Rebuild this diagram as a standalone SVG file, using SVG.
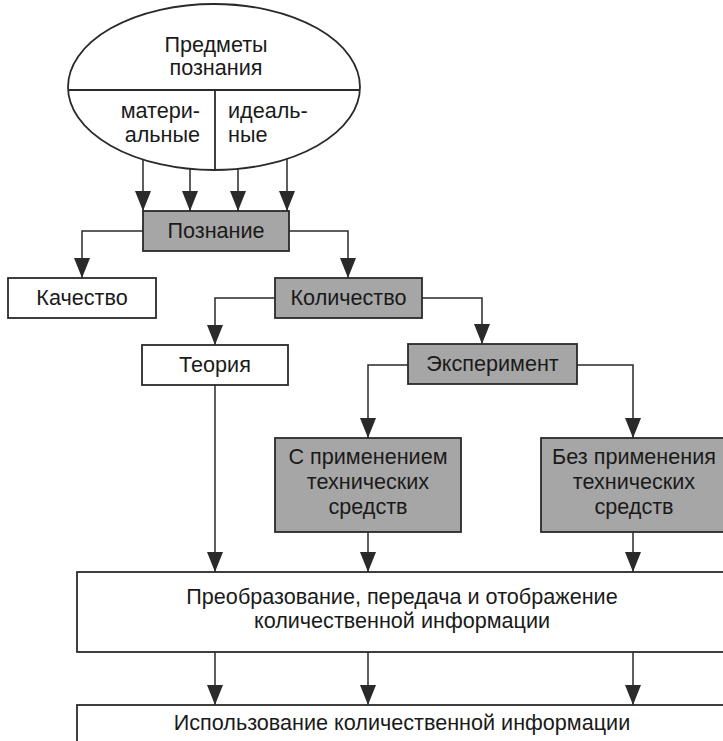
<svg xmlns="http://www.w3.org/2000/svg" width="723" height="741" viewBox="0 0 723 741">
<style>
.t{font-family:"Liberation Sans",Arial,sans-serif;font-size:21.6px;fill:#1a1a1a;text-anchor:middle}
.w{fill:#fff;stroke:#2a2a2a;stroke-width:1.8}
.g{fill:#a6a6a6;stroke:#2a2a2a;stroke-width:1.8}
.c{fill:none;stroke:#2a2a2a;stroke-width:1.5}
</style>
<defs>
<marker id="ah" markerUnits="userSpaceOnUse" markerWidth="20" markerHeight="16" refX="20" refY="8" orient="auto" viewBox="0 0 20 16">
<path d="M0,0 L20,8 L0,16 z" fill="#2a2a2a"/>
</marker>
</defs>
<rect width="723" height="741" fill="#fff"/>
<g id="predmety">
<ellipse cx="214" cy="87" rx="146" ry="83" class="w"/>
<line x1="68" y1="90" x2="360" y2="90" stroke="#2a2a2a" stroke-width="1.8"/>
<line x1="215" y1="90" x2="215" y2="170" stroke="#2a2a2a" stroke-width="1.8"/>
<text class="t" x="216" y="52">Предметы</text>
<text class="t" x="216" y="75">познания</text>
<text class="t" x="200" y="118" style="text-anchor:end">матери-</text>
<text class="t" x="200" y="142" style="text-anchor:end">альные</text>
<text class="t" x="228" y="118" style="text-anchor:start">идеаль-</text>
<text class="t" x="228" y="142" style="text-anchor:start">ные</text>
</g>
<g id="poznanie"><rect x="143" y="211" width="146" height="40" class="g"/><text class="t" x="216" y="238">Познание</text></g>
<g id="kachestvo"><rect x="8" y="278" width="148" height="40" class="w"/><text class="t" x="82" y="305">Качество</text></g>
<g id="kolichestvo"><rect x="275" y="278" width="147" height="40" class="g"/><text class="t" x="348.5" y="305">Количество</text></g>
<g id="teoriya"><rect x="142" y="345" width="146" height="40" class="w"/><text class="t" x="215" y="372">Теория</text></g>
<g id="eksperiment"><rect x="408" y="344" width="169" height="40" class="g"/><text class="t" x="492.5" y="371">Эксперимент</text></g>
<g id="s-primeneniem"><rect x="275" y="438" width="186" height="94" class="g"/>
<text class="t" x="368" y="464">С применением</text><text class="t" x="368" y="489">технических</text><text class="t" x="368" y="514">средств</text></g>
<g id="bez-primeneniya"><rect x="541" y="438" width="190" height="94" class="g"/>
<text class="t" x="634" y="464">Без применения</text><text class="t" x="634" y="489">технических</text><text class="t" x="634" y="514">средств</text></g>
<g id="preobrazovanie"><rect x="77" y="572" width="652" height="80" class="w"/>
<text class="t" x="402" y="604">Преобразование, передача и отображение</text><text class="t" x="402" y="628">количественной информации</text></g>
<g id="ispolzovanie"><rect x="77" y="705" width="652" height="50" class="w"/>
<text class="t" x="402" y="730">Использование количественной информации</text></g>
<g id="connectors" class="c" marker-end="url(#ah)">
<path d="M143,159.5 V211"/>
<path d="M190,169 V211"/>
<path d="M238,169 V211"/>
<path d="M287,159 V211"/>
<path d="M143,231 H82 V278"/>
<path d="M289,231 H348 V278"/>
<path d="M275,298 H215 V345"/>
<path d="M422,298 H482 V344"/>
<path d="M408,365 H368 V438"/>
<path d="M577,365 H633 V438"/>
<path d="M215,385 V572"/>
<path d="M368,532 V572"/>
<path d="M633,532 V572"/>
<path d="M215,652 V705"/>
<path d="M368,652 V705"/>
<path d="M633,652 V705"/>
</g>
</svg>
